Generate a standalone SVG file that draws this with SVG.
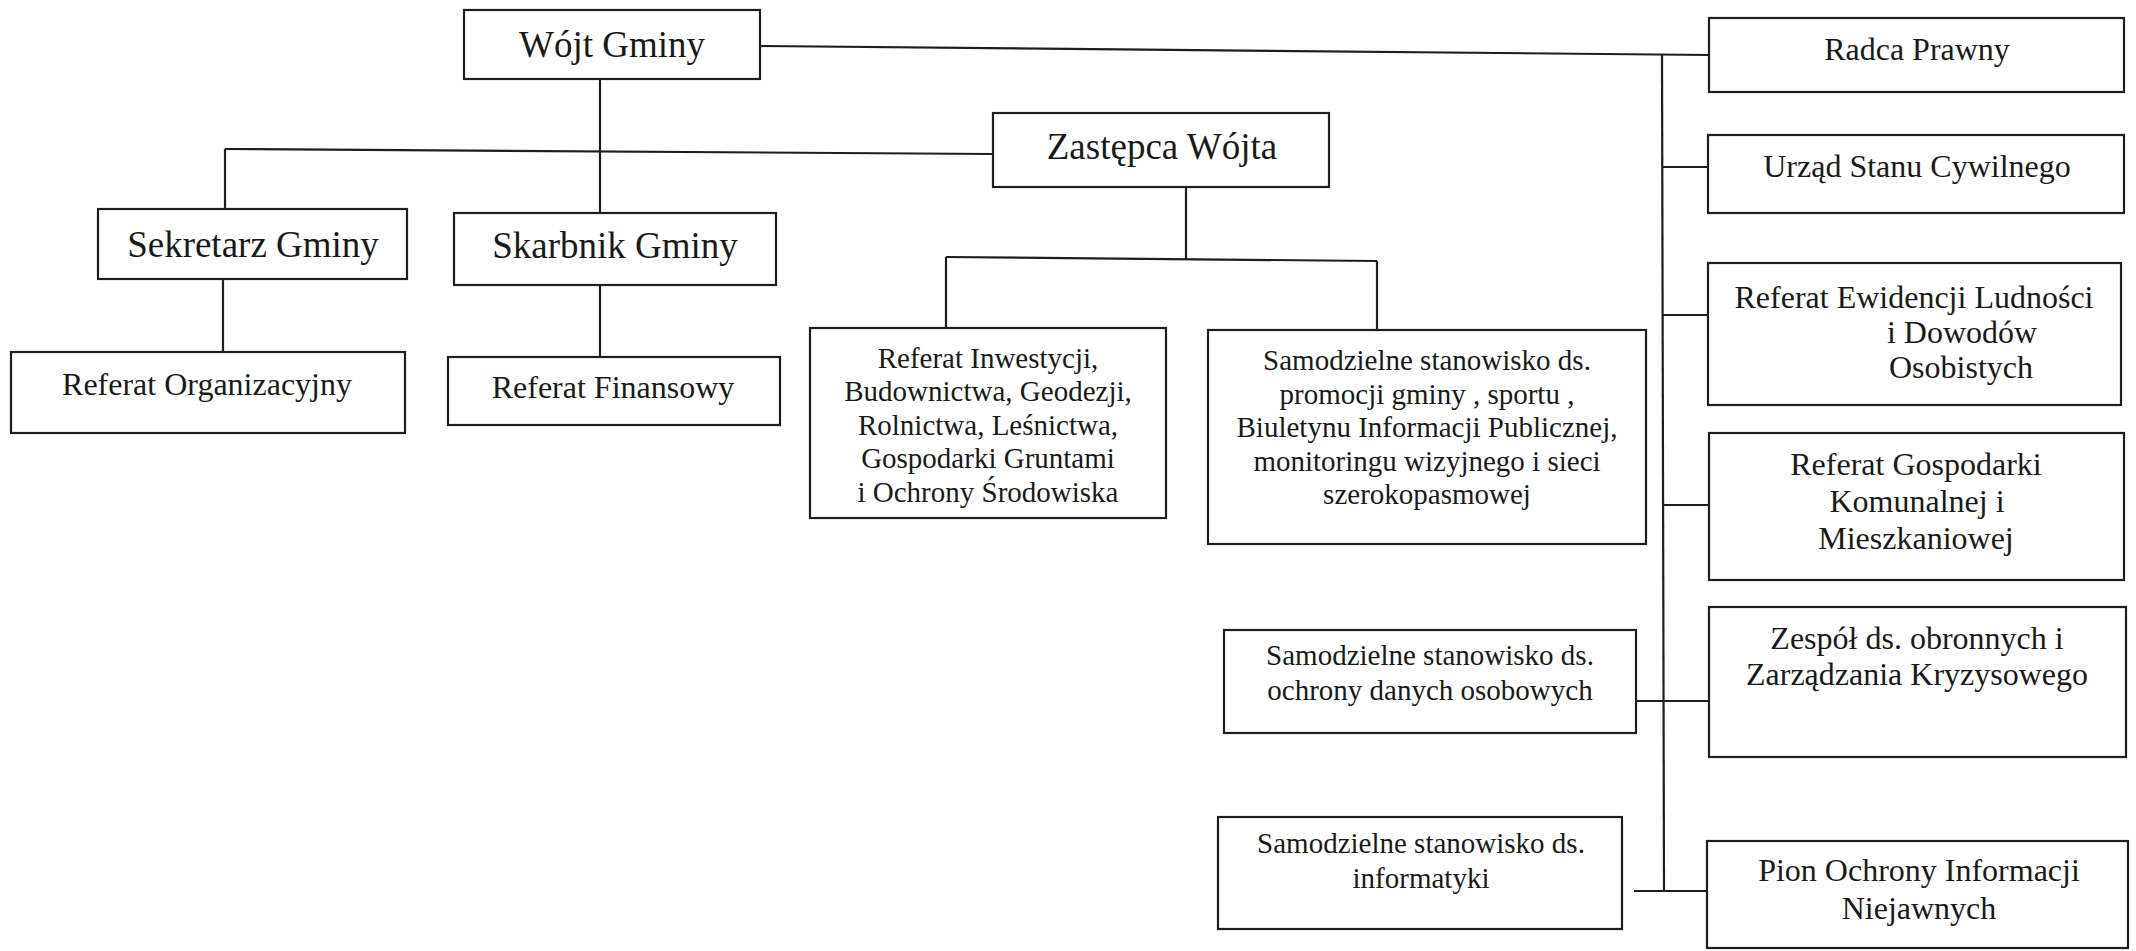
<svg xmlns="http://www.w3.org/2000/svg" width="2136" height="951" viewBox="0 0 2136 951">
<style>
.box{fill:#fff;stroke:#1e1e1e;stroke-width:2.2}
.ln{fill:none;stroke:#1e1e1e;stroke-width:2.2}
text{font-family:"Liberation Serif","Times New Roman",serif;fill:#1a1a1a;text-anchor:middle}
.t37{font-size:37px}
.t32{font-size:32px}
.t29{font-size:29px}
</style>
<rect width="2136" height="951" fill="#fff"/>
<g id="connectors">
<line class="ln" x1="760" y1="46" x2="1709" y2="55"/>
<line class="ln" x1="600" y1="79" x2="600" y2="213"/>
<line class="ln" x1="225" y1="149" x2="993" y2="154"/>
<line class="ln" x1="225" y1="149" x2="225" y2="209"/>
<line class="ln" x1="223" y1="279" x2="223" y2="352"/>
<line class="ln" x1="600" y1="285" x2="600" y2="357"/>
<line class="ln" x1="1186" y1="187" x2="1186" y2="259"/>
<line class="ln" x1="946" y1="257" x2="1377" y2="261"/>
<line class="ln" x1="946" y1="257" x2="946" y2="328"/>
<line class="ln" x1="1377" y1="261" x2="1377" y2="330"/>
<line class="ln" x1="1662" y1="54" x2="1664" y2="891"/>
<line class="ln" x1="1662" y1="167" x2="1708" y2="167"/>
<line class="ln" x1="1662" y1="315" x2="1708" y2="315"/>
<line class="ln" x1="1663" y1="505" x2="1709" y2="505"/>
<line class="ln" x1="1636" y1="701" x2="1709" y2="701"/>
<line class="ln" x1="1634" y1="891" x2="1707" y2="891"/>
</g>
<g id="wojt"><rect class="box" x="464" y="10" width="296" height="69"/><text class="t37" x="612" y="57">Wójt Gminy</text></g>
<g id="zastepca"><rect class="box" x="993" y="113" width="336" height="74"/><text class="t37" x="1162" y="159">Zastępca Wójta</text></g>
<g id="sekretarz"><rect class="box" x="98" y="209" width="309" height="70"/><text class="t37" x="253" y="257">Sekretarz Gminy</text></g>
<g id="skarbnik"><rect class="box" x="454" y="213" width="322" height="72"/><text class="t37" x="615" y="258">Skarbnik Gminy</text></g>
<g id="ref-org"><rect class="box" x="11" y="352" width="394" height="81"/><text class="t32" x="207" y="395">Referat Organizacyjny</text></g>
<g id="ref-fin"><rect class="box" x="448" y="357" width="332" height="68"/><text class="t32" x="613" y="398">Referat Finansowy</text></g>
<g id="ref-inw"><rect class="box" x="810" y="328" width="356" height="190"/>
<text class="t29" x="988" y="368">Referat Inwestycji,</text>
<text class="t29" x="988" y="401">Budownictwa, Geodezji,</text>
<text class="t29" x="988" y="435">Rolnictwa, Leśnictwa,</text>
<text class="t29" x="988" y="468">Gospodarki Gruntami</text>
<text class="t29" x="988" y="502">i Ochrony Środowiska</text></g>
<g id="promocja"><rect class="box" x="1208" y="330" width="438" height="214"/>
<text class="t29" x="1427" y="370">Samodzielne stanowisko ds.</text>
<text class="t29" x="1427" y="404">promocji gminy , sportu ,</text>
<text class="t29" x="1427" y="437">Biuletynu Informacji Publicznej,</text>
<text class="t29" x="1427" y="471">monitoringu wizyjnego i sieci</text>
<text class="t29" x="1427" y="504">szerokopasmowej</text></g>
<g id="radca"><rect class="box" x="1709" y="18" width="415" height="74"/><text class="t32" x="1917" y="60">Radca Prawny</text></g>
<g id="usc"><rect class="box" x="1708" y="135" width="416" height="78"/><text class="t32" x="1917" y="177">Urząd Stanu Cywilnego</text></g>
<g id="ewidencja"><rect class="box" x="1708" y="263" width="413" height="142"/>
<text class="t32" x="1914" y="308">Referat Ewidencji Ludności</text>
<text class="t32" x="1962" y="343">i Dowodów</text>
<text class="t32" x="1961" y="378">Osobistych</text></g>
<g id="gospodarka"><rect class="box" x="1709" y="433" width="415" height="147"/>
<text class="t32" x="1916" y="475">Referat Gospodarki</text>
<text class="t32" x="1917" y="512">Komunalnej i</text>
<text class="t32" x="1916" y="549">Mieszkaniowej</text></g>
<g id="zespol"><rect class="box" x="1709" y="607" width="417" height="150"/>
<text class="t32" x="1917" y="649">Zespół ds. obronnych i</text>
<text class="t32" x="1917" y="685">Zarządzania Kryzysowego</text></g>
<g id="rodo"><rect class="box" x="1224" y="630" width="412" height="103"/>
<text class="t29" x="1430" y="665">Samodzielne stanowisko ds.</text>
<text class="t29" x="1430" y="700">ochrony danych osobowych</text></g>
<g id="informatyka"><rect class="box" x="1218" y="817" width="404" height="112"/>
<text class="t29" x="1421" y="853">Samodzielne stanowisko ds.</text>
<text class="t29" x="1421" y="888">informatyki</text></g>
<g id="pion"><rect class="box" x="1707" y="841" width="421" height="107"/>
<text class="t32" x="1919" y="881">Pion Ochrony Informacji</text>
<text class="t32" x="1919" y="919">Niejawnych</text></g>
</svg>
